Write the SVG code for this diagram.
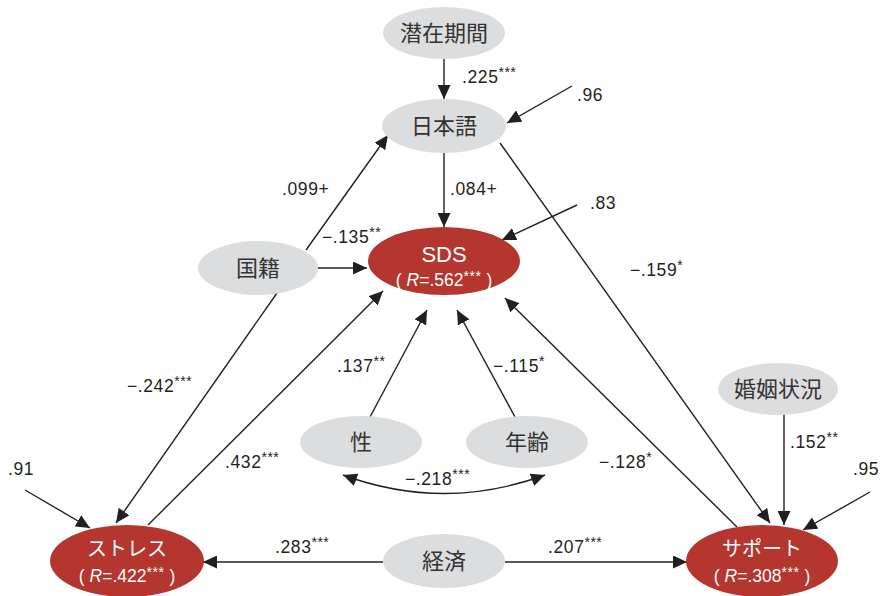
<svg xmlns="http://www.w3.org/2000/svg" width="885" height="596" viewBox="0 0 885 596">
<style>
.g{fill:#dcddde}
.r{fill:#b5352f}
.nt{font-family:"Noto Sans CJK JP","Noto Sans",sans-serif;font-size:22px;fill:#333;text-anchor:middle}
.wt{font-family:"Noto Sans CJK JP","Liberation Sans",sans-serif;font-size:20px;fill:#fff;text-anchor:middle}
.ws{font-family:"Liberation Sans",sans-serif;font-size:17.5px;fill:#fff;text-anchor:middle}
.lb{font-family:"Liberation Sans",sans-serif;font-size:17.5px;letter-spacing:0.6px;fill:#231f20}
.st{font-size:14px;letter-spacing:0.5px}
.e{stroke:#231f20;stroke-width:1.4;fill:none;marker-end:url(#ah)}
</style>
<defs>
<marker id="ah" markerUnits="userSpaceOnUse" markerWidth="15" markerHeight="13" refX="14" refY="6.5" orient="auto-start-reverse">
<path d="M0,0 L14,6.5 L0,13 z" fill="#231f20"/>
</marker>
</defs>
<rect width="885" height="596" fill="#fff"/>
<g id="connectors">
<line class="e" x1="444" y1="59" x2="444" y2="99"/>
<line class="e" x1="572" y1="86" x2="507" y2="123"/>
<line class="e" x1="306" y1="250" x2="388" y2="135"/>
<line class="e" x1="444" y1="153" x2="444" y2="227"/>
<line class="e" x1="577" y1="205" x2="502" y2="240"/>
<line class="e" x1="318" y1="268" x2="367" y2="268"/>
<line class="e" x1="277" y1="293" x2="116" y2="523"/>
<line class="e" x1="148" y1="525" x2="383" y2="291"/>
<line class="e" x1="370" y1="417" x2="427" y2="310"/>
<line class="e" x1="515" y1="417" x2="457" y2="310"/>
<line class="e" x1="737" y1="527" x2="505" y2="298"/>
<line class="e" x1="500" y1="143" x2="770" y2="523"/>
<line class="e" x1="784" y1="414" x2="784" y2="525"/>
<line class="e" x1="870" y1="492" x2="803" y2="530"/>
<line class="e" x1="25" y1="490" x2="90" y2="528"/>
<line class="e" x1="383" y1="562" x2="203" y2="562"/>
<line class="e" x1="505" y1="562" x2="687" y2="562"/>
<path class="e" style="marker-start:url(#ah)" d="M343,475 Q444,512 545,475"/>
</g>
<g id="n-senzai"><ellipse class="g" cx="444" cy="33" rx="61" ry="26"/><text class="nt" x="444" y="41">潜在期間</text></g>
<g id="n-nihongo"><ellipse class="g" cx="444" cy="126" rx="62" ry="27"/><text class="nt" x="444" y="134">日本語</text></g>
<g id="n-kokuseki"><ellipse class="g" cx="258" cy="268" rx="60" ry="27"/><text class="nt" x="258" y="276">国籍</text></g>
<g id="n-sds"><ellipse class="r" cx="444" cy="261" rx="76" ry="34"/><text class="wt" x="444" y="262" style="font-family:'Liberation Sans',sans-serif;font-size:22px">SDS</text><text class="ws" x="444" y="286">(<tspan dx="5" font-style="italic">R</tspan>=.562<tspan class="st" dy="-5">***</tspan><tspan dx="5" dy="5">)</tspan></text></g>
<g id="n-sei"><ellipse class="g" cx="361" cy="442" rx="61" ry="26"/><text class="nt" x="361" y="450">性</text></g>
<g id="n-nenrei"><ellipse class="g" cx="527" cy="442" rx="61" ry="26"/><text class="nt" x="527" y="450">年齢</text></g>
<g id="n-konin"><ellipse class="g" cx="778" cy="389" rx="60" ry="26"/><text class="nt" x="778" y="397">婚姻状況</text></g>
<g id="n-keizai"><ellipse class="g" cx="444" cy="561" rx="61" ry="27"/><text class="nt" x="444" y="569">経済</text></g>
<g id="n-stress"><ellipse class="r" cx="127" cy="561" rx="77" ry="36"/><text class="wt" x="127" y="556">ストレス</text><text class="ws" x="127" y="582">(<tspan dx="5" font-style="italic">R</tspan>=.422<tspan class="st" dy="-5">***</tspan><tspan dx="5" dy="5">)</tspan></text></g>
<g id="n-support"><ellipse class="r" cx="762" cy="561" rx="76" ry="36"/><text class="wt" x="762" y="556">サポート</text><text class="ws" x="762" y="582">(<tspan dx="5" font-style="italic">R</tspan>=.308<tspan class="st" dy="-5">***</tspan><tspan dx="5" dy="5">)</tspan></text></g>
<g id="labels">
<text class="lb" x="462" y="83">.225<tspan class="st" dy="-6">***</tspan></text>
<text class="lb" x="577" y="101">.96</text>
<text class="lb" x="282" y="195">.099+</text>
<text class="lb" x="450" y="195">.084+</text>
<text class="lb" x="590" y="209">.83</text>
<text class="lb" x="322" y="243">−.135<tspan class="st" dy="-6">**</tspan></text>
<text class="lb" x="630" y="276">−.159<tspan class="st" dy="-6">*</tspan></text>
<text class="lb" x="127" y="392">−.242<tspan class="st" dy="-6">***</tspan></text>
<text class="lb" x="337" y="372">.137<tspan class="st" dy="-6">**</tspan></text>
<text class="lb" x="493" y="372">−.115<tspan class="st" dy="-6">*</tspan></text>
<text class="lb" x="225" y="468">.432<tspan class="st" dy="-6">***</tspan></text>
<text class="lb" x="599" y="468">−.128<tspan class="st" dy="-6">*</tspan></text>
<text class="lb" x="790" y="448">.152<tspan class="st" dy="-6">**</tspan></text>
<text class="lb" x="8" y="475">.91</text>
<text class="lb" x="853" y="475">.95</text>
<text class="lb" x="405" y="485">−.218<tspan class="st" dy="-6">***</tspan></text>
<text class="lb" x="275" y="553">.283<tspan class="st" dy="-6">***</tspan></text>
<text class="lb" x="548" y="553">.207<tspan class="st" dy="-6">***</tspan></text>
</g>
</svg>
